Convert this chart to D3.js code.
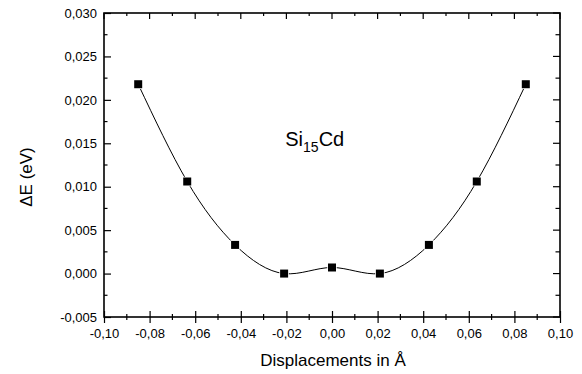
<!DOCTYPE html>
<html>
<head>
<meta charset="utf-8">
<script src="https://cdn.jsdelivr.net/npm/d3@7"></script>
<style>
  html, body { margin: 0; padding: 0; background: #fff; }
  svg { display: block; font-family: "Liberation Sans", Arial, sans-serif; }
</style>
</head>
<body>
<div id="chart"></div>
<script>
(function () {
  // displacement (Å) and energy difference (eV)
  const displacements = [-0.085, -0.0635, -0.0425, -0.021, 0.0, 0.021, 0.0425, 0.0635, 0.085];
  const energies = [0.0218, 0.0106, 0.0033, 0.0000, 0.0007, 0.0000, 0.0033, 0.0106, 0.0218];
  const xMajorTicks = [-0.10, -0.08, -0.06, -0.04, -0.02, 0.00, 0.02, 0.04, 0.06, 0.08, 0.10];
  const xMinorTicks = [-0.09, -0.07, -0.05, -0.03, -0.01, 0.01, 0.03, 0.05, 0.07, 0.09];
  const yMajorTicks = [-0.005, 0.000, 0.005, 0.010, 0.015, 0.020, 0.025, 0.030];
  const yMinorTicks = [-0.0025, 0.0025, 0.0075, 0.0125, 0.0175, 0.0225, 0.0275];

  const width = 582, height = 374;
  const margin = { top: 13, right: 22, bottom: 57, left: 104 };
  const innerW = width - margin.left - margin.right;
  const innerH = height - margin.top - margin.bottom;

  const fmtX = d => d3.format(".2f")(d).replace("−", "-").replace(".", ",");
  const fmtY = d => d3.format(".3f")(d).replace("−", "-").replace(".", ",");

  const svg = d3.select("#chart").append("svg")
    .attr("width", width)
    .attr("height", height);

  const g = svg.append("g").attr("transform", `translate(${margin.left},${margin.top})`);

  const x = d3.scaleLinear().domain([-0.10, 0.10]).range([0, innerW]);
  const y = d3.scaleLinear().domain([-0.005, 0.030]).range([innerH, 0]);

  // bottom axis: ticks cross the axis line
  const bottomAxis = g.append("g").attr("transform", `translate(0,${innerH})`);
  bottomAxis.call(d3.axisBottom(x).tickValues(xMajorTicks).tickFormat(fmtX).tickSizeInner(6).tickSizeOuter(0));
  bottomAxis.selectAll(".tick line").attr("y1", -6);
  bottomAxis.selectAll(".tick text").attr("y", 12).style("font-size", "13px").style("fill", "#000");
  bottomAxis.select(".domain").remove();
  bottomAxis.selectAll(".minor").data(xMinorTicks).join("line")
    .attr("class", "minor")
    .attr("x1", d => x(d)).attr("x2", d => x(d))
    .attr("y1", -3).attr("y2", 3)
    .attr("stroke", "#000").attr("stroke-width", 1.2);

  // left axis: inward ticks
  const leftAxis = g.append("g");
  leftAxis.call(d3.axisLeft(y).tickValues(yMajorTicks).tickFormat(fmtY).tickSizeInner(-7).tickSizeOuter(0).tickPadding(7));
  leftAxis.selectAll(".tick text").style("font-size", "13px").style("fill", "#000");
  leftAxis.select(".domain").remove();
  leftAxis.selectAll(".minor").data(yMinorTicks).join("line")
    .attr("class", "minor")
    .attr("x1", 0).attr("x2", 3.5)
    .attr("y1", d => y(d)).attr("y2", d => y(d))
    .attr("stroke", "#000").attr("stroke-width", 1.2);

  // top axis: inward ticks, no labels
  const topAxis = g.append("g");
  topAxis.selectAll(".major").data(xMajorTicks).join("line")
    .attr("class", "major")
    .attr("x1", d => x(d)).attr("x2", d => x(d))
    .attr("y1", 0).attr("y2", 6)
    .attr("stroke", "#000").attr("stroke-width", 1.2);
  topAxis.selectAll(".minor").data(xMinorTicks).join("line")
    .attr("class", "minor")
    .attr("x1", d => x(d)).attr("x2", d => x(d))
    .attr("y1", 0).attr("y2", 3)
    .attr("stroke", "#000").attr("stroke-width", 1.2);

  // right axis: inward ticks, no labels
  const rightAxis = g.append("g").attr("transform", `translate(${innerW},0)`);
  rightAxis.selectAll(".major").data(yMajorTicks).join("line")
    .attr("class", "major")
    .attr("x1", -7).attr("x2", 0)
    .attr("y1", d => y(d)).attr("y2", d => y(d))
    .attr("stroke", "#000").attr("stroke-width", 1.2);
  rightAxis.selectAll(".minor").data(yMinorTicks).join("line")
    .attr("class", "minor")
    .attr("x1", -4.5).attr("x2", 0)
    .attr("y1", d => y(d)).attr("y2", d => y(d))
    .attr("stroke", "#000").attr("stroke-width", 1.2);

  g.selectAll(".tick line").attr("stroke", "#000").attr("stroke-width", 1.2);

  // frame
  g.append("rect")
    .attr("width", innerW).attr("height", innerH)
    .attr("fill", "none").attr("stroke", "#000").attr("stroke-width", 1.6);

  const points = displacements.map((d, i) => [d, energies[i]]);

  // smooth curve through the points
  g.append("path")
    .datum(points)
    .attr("fill", "none")
    .attr("stroke", "#000")
    .attr("stroke-width", 1)
    .attr("d", d3.line().x(d => x(d[0])).y(d => y(d[1])).curve(d3.curveNatural));

  // square markers with a small white halo (gap in the line)
  g.selectAll(".pt").data(points).join("rect")
    .attr("class", "pt")
    .attr("x", d => x(d[0]) - 4)
    .attr("y", d => y(d[1]) - 4)
    .attr("width", 8).attr("height", 8)
    .attr("fill", "#000")
    .attr("stroke", "#fff").attr("stroke-width", 1.5)
    .attr("paint-order", "stroke");

  // in-plot label Si15Cd
  const lab = g.append("text")
    .attr("x", x(-0.0205)).attr("y", y(0.0147))
    .style("font-size", "20px").attr("fill", "#000");
  lab.append("tspan").text("Si");
  lab.append("tspan").attr("dy", 6).style("font-size", "14px").text("15");
  lab.append("tspan").attr("dy", -6).text("Cd");

  // axis titles
  svg.append("text")
    .attr("x", 333).attr("y", 366)
    .attr("text-anchor", "middle")
    .style("font-size", "17px").attr("fill", "#000")
    .text("Displacements in Å");

  svg.append("text")
    .attr("transform", `translate(32,177) rotate(-90)`)
    .attr("text-anchor", "middle")
    .style("font-size", "17px").attr("fill", "#000")
    .text("ΔE (eV)");
})();
</script>
</body>
</html>
